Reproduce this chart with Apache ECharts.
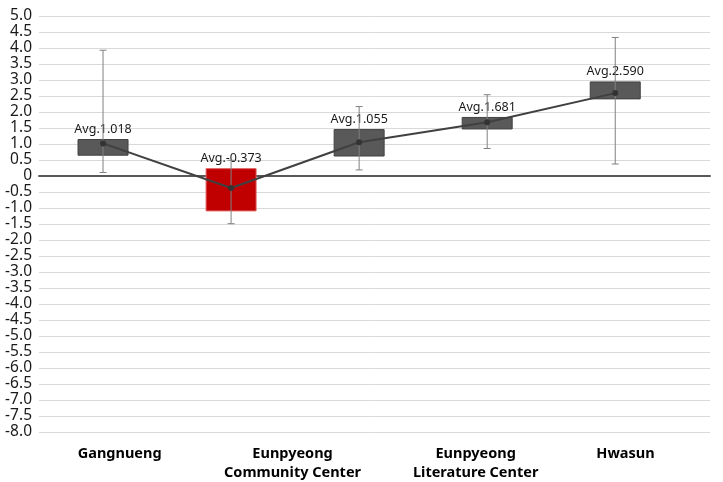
<!DOCTYPE html>
<html>
<head>
<meta charset="utf-8">
<script src="https://cdn.jsdelivr.net/npm/echarts@6/dist/echarts.min.js"></script>
<style>
html,body{margin:0;padding:0;background:#fff;}
#chart{width:723px;height:482px;}
</style>
</head>
<body>
<div id="chart"></div>
<script>
// ---- data ----
const categories = ['Gangnueng', 'Eunpyeong\nCommunity Center', 'Eunpyeong\nLiterature Center', 'Hwasun'];
const categoryLabelAt = [0.13, 1.48, 2.91, 4.08];
const groupIndex = [0, 1, 2, 3, 4];
const avgValues = [1.018, -0.373, 1.055, 1.681, 2.590];
const boxLow = [0.65, -1.09, 0.625, 1.47, 2.41];
const boxHigh = [1.14, 0.23, 1.45, 1.83, 2.94];
const whiskerLow = [0.11, -1.49, 0.19, 0.86, 0.375];
const whiskerHigh = [3.93, 0.49, 2.17, 2.54, 4.33];
const yMin = -8, yMax = 5, yStep = 0.5;

const FONT = 'Noto Sans';
const chart = echarts.init(document.getElementById('chart'));

const boxData = groupIndex.map((g, i) => [g, boxLow[i], boxHigh[i], avgValues[i]]);
const whiskerData = groupIndex.map((g, i) => [g, whiskerLow[i], whiskerHigh[i]]);
const lineData = groupIndex.map((g, i) => [g, avgValues[i]]);

const option = {
  backgroundColor: '#fff',
  animation: false,
  grid: { left: 39, right: 13, top: 16, bottom: 47 },
  xAxis: [
    {
      type: 'value', min: -0.5, max: 4.74,
      axisLine: { show: true, onZero: true, lineStyle: { color: '#595959', width: 2 } },
      axisTick: { show: false }, axisLabel: { show: false }, splitLine: { show: false }
    },
    {
      type: 'value', min: -0.5, max: 4.74, position: 'bottom',
      axisLine: { show: false, onZero: false }, axisTick: { show: false }, splitLine: { show: false },
      axisLabel: {
        customValues: categoryLabelAt,
        showMinLabel: true, showMaxLabel: true,
        formatter: function (v) {
          let best = 0, d = Infinity;
          categoryLabelAt.forEach((p, i) => { if (Math.abs(p - v) < d) { d = Math.abs(p - v); best = i; } });
          return categories[best];
        },
        color: '#000', fontFamily: FONT, fontWeight: 'bold', fontSize: 14.5,
        lineHeight: 19, margin: 12, verticalAlign: 'top', align: 'center'
      }
    }
  ],
  yAxis: {
    type: 'value', min: yMin, max: yMax, interval: yStep,
    axisLine: { show: false }, axisTick: { show: false },
    splitLine: { lineStyle: { color: '#D9D9D9', width: 1 } },
    axisLabel: {
      formatter: v => (Math.abs(v) < 1e-9 ? '0' : v.toFixed(1)),
      color: '#1a1a1a', fontFamily: FONT, fontSize: 15.5, margin: 7
    }
  },
  series: [
    {
      type: 'custom', name: 'box', xAxisIndex: 0, z: 2,
      data: boxData,
      renderItem: function (params, api) {
        const x = api.value(0), lo = api.value(1), hi = api.value(2), avg = api.value(3);
        const pTop = api.coord([x, hi]);
        const pBot = api.coord([x, lo]);
        const w = 50;
        const neg = avg < 0;
        return {
          type: 'rect',
          shape: { x: pTop[0] - w / 2, y: pTop[1], width: w, height: pBot[1] - pTop[1] },
          style: { fill: neg ? '#C00000' : '#595959', stroke: neg ? '#E06060' : '#404040', lineWidth: 1 },
          textContent: {
            style: {
              text: 'Avg.' + avg.toFixed(3),
              fill: '#1a1a1a', fontSize: 12.5, fontFamily: FONT
            }
          },
          textConfig: { position: 'top', distance: 3 }
        };
      }
    },
    {
      type: 'custom', name: 'whisker', xAxisIndex: 0, z: 3,
      data: whiskerData,
      renderItem: function (params, api) {
        const x = api.value(0);
        const pLo = api.coord([x, api.value(1)]);
        const pHi = api.coord([x, api.value(2)]);
        const cap = 3.5;
        const st = { stroke: '#808080', lineWidth: 1 };
        return {
          type: 'group',
          children: [
            { type: 'line', shape: { x1: pLo[0], y1: pLo[1], x2: pHi[0], y2: pHi[1] }, style: st },
            { type: 'line', shape: { x1: pLo[0] - cap, y1: pLo[1], x2: pLo[0] + cap, y2: pLo[1] }, style: st },
            { type: 'line', shape: { x1: pHi[0] - cap, y1: pHi[1], x2: pHi[0] + cap, y2: pHi[1] }, style: st }
          ]
        };
      }
    },
    {
      type: 'line', name: 'avg', xAxisIndex: 0, z: 4,
      data: lineData,
      symbol: 'circle', symbolSize: 6,
      lineStyle: { color: '#404040', width: 2 },
      itemStyle: { color: '#333333' }
    }
  ]
};
chart.setOption(option);
</script>
</body>
</html>
